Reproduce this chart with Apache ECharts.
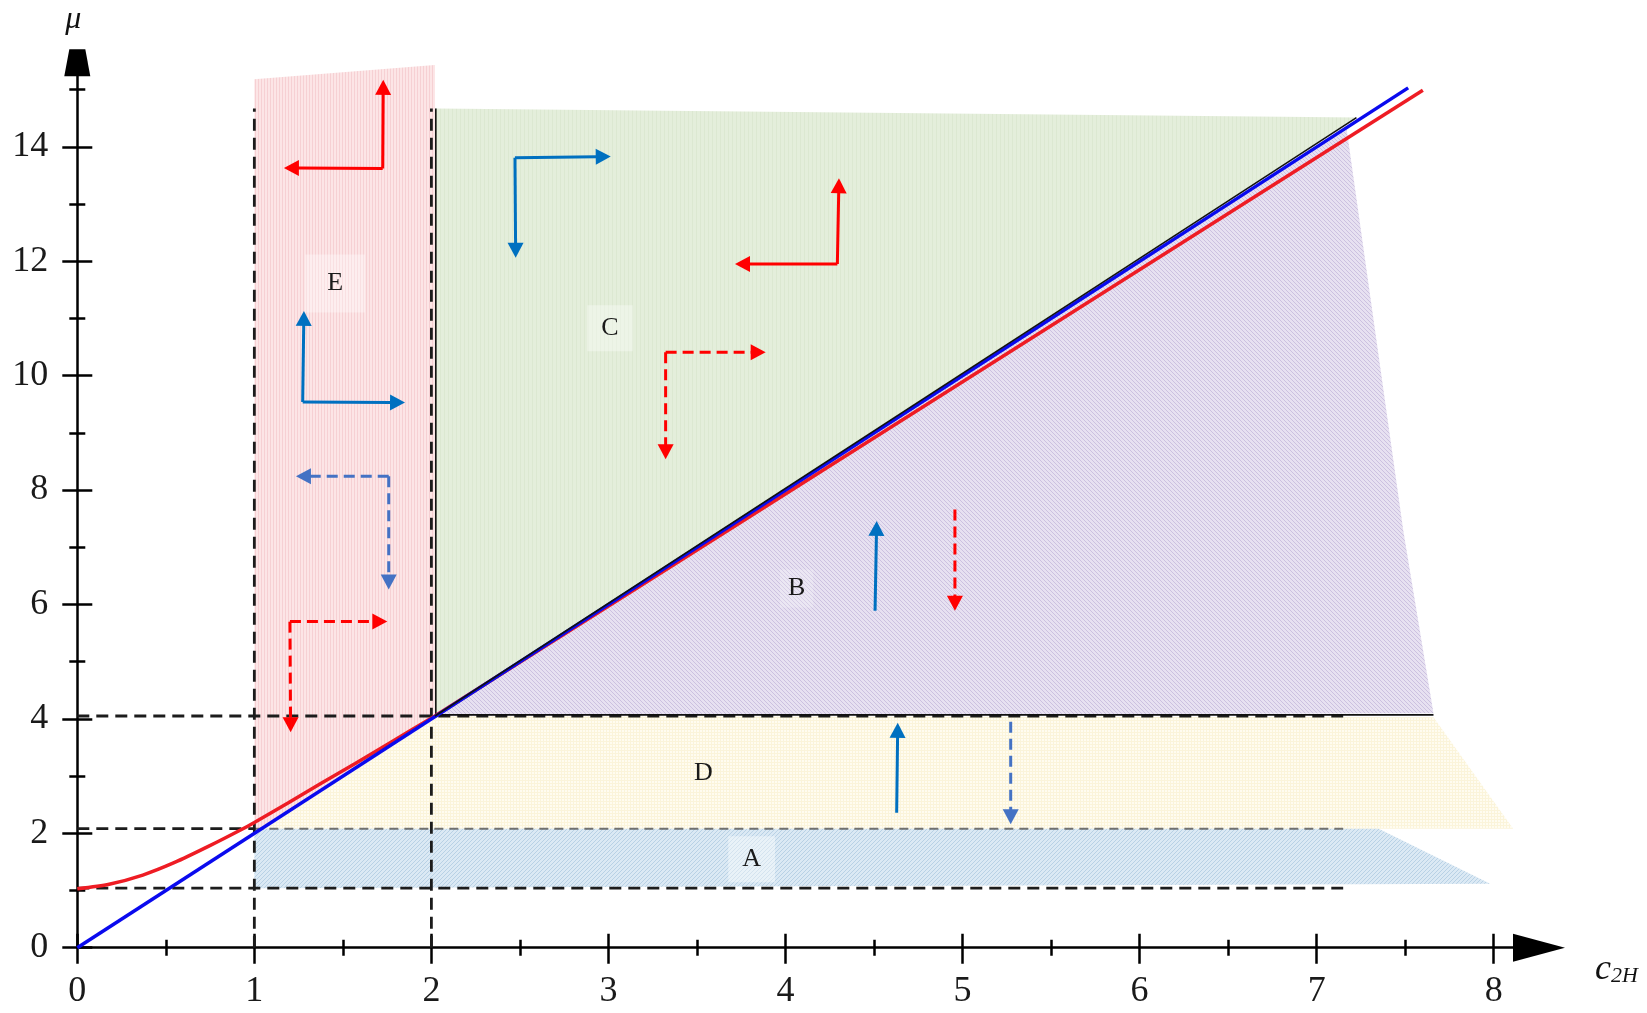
<!DOCTYPE html>
<html>
<head>
<meta charset="utf-8">
<script src="https://cdn.jsdelivr.net/npm/echarts@6/dist/echarts.min.js"></script>
<style>
html,body{margin:0;padding:0;background:#ffffff;}
#chart{width:1647px;height:1013px;}
</style>
</head>
<body>
<div id="chart"></div>
<script>
// ---------- data ----------
const xMajorTicks = [0, 1, 2, 3, 4, 5, 6, 7, 8];
const xMinorTicks = [0.5, 1.5, 2.5, 3.5, 4.5, 5.5, 6.5, 7.5];
const yMajorTicks = [0, 2, 4, 6, 8, 10, 12, 14];
const yMinorTicks = [1, 3, 5, 7, 9, 11, 13, 15];

// red curve: curved part up to the meeting point, then straight part
const redCurve = [[0, 1.03], [0.18, 1.11], [0.37, 1.27], [0.55, 1.49], [0.74, 1.77], [0.93, 2.07], [1.0, 2.19],
  [1.19, 2.53], [1.38, 2.88], [1.57, 3.22], [1.76, 3.57], [2.02, 4.05]];
const redStraight = [[2.02, 4.05], [7.6, 14.99]];
const blueLine = [[0, 0], [7.517, 15.03]];
const blackLine = [[2.02, 4.05], [7.225, 14.51]];

const regionE = [[1.0, 15.18], [2.02, 15.43], [2.02, 4.05], [1.0, 2.0]];
const regionC = [[2.02, 4.05], [2.02, 14.67], [7.225, 14.51]];
const regionB = [[2.02, 4.05], [7.17, 14.3], [7.49, 7.28], [7.66, 4.1]];
const regionD = [[1.04, 2.08], [2.02, 4.05], [7.66, 4.03], [8.11, 2.08]];
const regionA = [[1.0, 1.04], [1.0, 2.08], [7.35, 2.08], [7.98, 1.12]];

const darkDashedLines = [
  [[0, 4.05], [7.15, 4.05]],
  [[0, 2.08], [1.0, 2.08]],
  [[0, 1.04], [7.15, 1.04]],
  [[1.0, 0], [1.0, 14.67]],
  [[2.0, 0], [2.0, 14.67]]
];
const greyDashedLines = [
  [[1.0, 2.08], [7.15, 2.08]]
];
const thinSolidLines = [
  [[2.02, 4.07], [7.66, 4.07]],
  [[2.025, 4.05], [2.025, 14.67]]
];

// arrows: [tailX, tailY, tipX, tipY]
const redSolidArrows = [
  [1.725, 13.62, 1.728, 15.17], [1.725, 13.62, 1.167, 13.63],
  [4.293, 11.95, 4.302, 13.45], [4.293, 11.95, 3.715, 11.95]
];
const redDashedArrows = [
  [1.201, 5.70, 1.751, 5.70], [1.201, 5.70, 1.205, 3.765],
  [3.323, 10.41, 3.888, 10.41], [3.323, 10.41, 3.323, 8.54],
  [4.957, 7.66, 4.957, 5.89]
];
const blueSolidArrows = [
  [1.273, 9.54, 1.28, 11.13], [1.273, 9.54, 1.851, 9.53],
  [2.472, 13.81, 3.013, 13.83], [2.472, 13.81, 2.476, 12.06],
  [4.506, 5.89, 4.515, 7.46],
  [4.628, 2.36, 4.634, 3.93]
];
const blueDashedArrows = [
  [1.759, 8.24, 1.235, 8.24], [1.759, 8.24, 1.759, 6.26],
  [5.272, 3.95, 5.272, 2.16]
];

const regionLabelNames = ['E', 'C', 'B', 'D', 'A'];
const regionLabelPos = [[1.456, 11.61], [3.009, 10.83], [4.063, 6.28], [3.536, 3.05], [3.809, 1.545]];

// ---------- styling helpers ----------
const SERIF = '"Liberation Serif", "DejaVu Serif", serif';
function makePattern(bg, fg, kind, s) {
  const c = document.createElement('canvas');
  c.width = s; c.height = s;
  const g = c.getContext('2d');
  g.fillStyle = bg; g.fillRect(0, 0, s, s);
  g.fillStyle = fg;
  if (kind === 'v') g.fillRect(0, 0, 1, s);
  else if (kind === 'grid') { g.fillRect(0, 0, 1, s); g.fillRect(0, 0, s, 1); }
  else if (kind === 'back') { for (let i = 0; i < s; i++) g.fillRect(i, i, 1, 1); }
  else if (kind === 'fwd') { for (let i = 0; i < s; i++) g.fillRect(s - 1 - i, i, 1, 1); }
  return { image: c, repeat: 'repeat' };
}
const fillE = makePattern('rgb(252,229,230)', 'rgb(246,208,211)', 'v', 3);
const fillC = makePattern('rgb(228,238,219)', 'rgb(220,232,209)', 'v', 4);
const fillB = makePattern('rgb(231,225,241)', 'rgb(204,193,224)', 'back', 4);
const fillD = makePattern('rgb(255,252,240)', 'rgb(251,244,218)', 'grid', 3);
const fillA = makePattern('rgb(219,233,244)', 'rgb(184,209,229)', 'fwd', 4);

function regionSeries(points, fill) {
  return {
    type: 'custom', coordinateSystem: 'cartesian2d', silent: true, z: 1, animation: false,
    data: points,
    renderItem: function (params, api) {
      if (params.dataIndex !== 0) return null;
      return { type: 'polygon', shape: { points: points.map(function (p) { return api.coord(p); }) }, style: { fill: fill } };
    }
  };
}
function segSeries(seg, color, width, type, z) {
  return {
    type: 'line', data: seg, symbol: 'none', showSymbol: false, silent: true, z: z, animation: false,
    lineStyle: { color: color, width: width, type: type }
  };
}
function arrowSeries(list, color, dashed) {
  return {
    type: 'custom', coordinateSystem: 'cartesian2d', silent: true, z: 6, animation: false,
    data: list,
    renderItem: function (params, api) {
      const p0 = api.coord([api.value(0), api.value(1)]);
      const p1 = api.coord([api.value(2), api.value(3)]);
      const dx = p1[0] - p0[0], dy = p1[1] - p0[1];
      const len = Math.sqrt(dx * dx + dy * dy) || 1;
      const ux = dx / len, uy = dy / len;
      const hl = 15, hw = 8;
      const bx = p1[0] - ux * hl, by = p1[1] - uy * hl;
      return {
        type: 'group', children: [
          { type: 'line', shape: { x1: p0[0], y1: p0[1], x2: bx + ux, y2: by + uy },
            style: { stroke: color, lineWidth: 3, lineDash: dashed ? [11, 6] : null } },
          { type: 'polygon', shape: { points: [[p1[0], p1[1]], [bx - uy * hw, by + ux * hw], [bx + uy * hw, by - ux * hw]] },
            style: { fill: color } }
        ]
      };
    }
  };
}
const labelBg = { E: 'rgba(255,255,255,0.35)', C: 'rgba(255,255,255,0.35)', B: 'rgba(255,255,255,0.2)', D: 'rgba(255,255,255,0)', A: 'rgba(255,255,255,0.4)' };
const labelPad = { E: [16, 22], C: [10, 14], B: [6, 8], D: [4, 4], A: [10, 14] };

// ---------- axes ----------
const X_MAX = 8.256, Y_MAX = 15.47;
const tickLine = { color: '#000', width: 2.5 };
function xAxisDef(ticks, len, inside, main) {
  return {
    type: 'value', min: 0, max: X_MAX, position: 'bottom', gridIndex: 0,
    splitLine: { show: false },
    axisLine: main ? { show: true, onZero: false, symbol: ['none', 'triangle'], symbolSize: [28, 52], lineStyle: { color: '#000', width: 2.5 } } : { show: false, onZero: false },
    axisTick: { show: true, customValues: ticks, length: len, inside: inside, lineStyle: tickLine },
    axisLabel: main ? { show: true, customValues: ticks, margin: 26, fontSize: 36, fontFamily: SERIF, color: '#1a1a1a' } : { show: false },
    name: main ? '{c|c}{s|2H}' : '',
    nameLocation: 'end', nameGap: 56,
    nameTextStyle: {
      align: 'left', verticalAlign: 'top', padding: [4, 0, 0, 0],
      rich: {
        c: { fontFamily: SERIF, fontStyle: 'italic', fontSize: 36, color: '#111' },
        s: { fontFamily: SERIF, fontStyle: 'italic', fontSize: 22, color: '#111', verticalAlign: 'bottom' }
      }
    }
  };
}
function yAxisDef(ticks, len, inside, main) {
  return {
    type: 'value', min: 0, max: Y_MAX, position: 'left', gridIndex: 0,
    splitLine: { show: false },
    axisLine: main ? { show: true, onZero: false, symbol: ['none', 'path://M5,0 L21,0 L26,27 L0,27 Z'], symbolSize: [26, 27], lineStyle: { color: '#000', width: 2.5 } } : { show: false, onZero: false },
    axisTick: { show: true, customValues: ticks, length: len, inside: inside, lineStyle: tickLine },
    axisLabel: main ? { show: true, customValues: ticks, margin: 29, fontSize: 36, fontFamily: SERIF, color: '#1a1a1a' } : { show: false },
    name: main ? 'μ' : '',
    nameLocation: 'end', nameGap: 27,
    nameTextStyle: { fontFamily: SERIF, fontStyle: 'italic', fontSize: 32, color: '#111', padding: [0, 8, 0, 0] }
  };
}

const series = [
  regionSeries(regionE, fillE),
  regionSeries(regionC, fillC),
  regionSeries(regionB, fillB),
  regionSeries(regionD, fillD),
  regionSeries(regionA, fillA)
];
greyDashedLines.forEach(function (s) { series.push(segSeries(s, 'rgba(70,70,70,0.75)', 2, [9, 6], 3)); });
darkDashedLines.forEach(function (s) { series.push(segSeries(s, '#1c1c1c', 2.8, [12, 7], 3)); });
thinSolidLines.forEach(function (s) { series.push(segSeries(s, '#111', 1.6, 'solid', 4)); });
series.push({ type: 'line', data: redCurve, symbol: 'none', smooth: 0.25, silent: true, z: 5, animation: false, lineStyle: { color: '#EE1C24', width: 3.5 } });
series.push(segSeries(redStraight, '#EE1C24', 3.5, 'solid', 5));
series.push(segSeries(blueLine, '#0A0AEE', 3.5, 'solid', 5));
series.push(segSeries(blackLine, '#111', 1.6, 'solid', 5));
series.push(arrowSeries(redSolidArrows, '#FF0000', false));
series.push(arrowSeries(redDashedArrows, '#FF0000', true));
series.push(arrowSeries(blueSolidArrows, '#0070C0', false));
series.push(arrowSeries(blueDashedArrows, '#4472C4', true));
series.push({
  type: 'custom', coordinateSystem: 'cartesian2d', silent: true, z: 7, animation: false,
  data: regionLabelPos,
  renderItem: function (params, api) {
    const name = regionLabelNames[params.dataIndex];
    const p = api.coord([api.value(0), api.value(1)]);
    return {
      type: 'text', x: p[0], y: p[1],
      style: { text: name, fontFamily: SERIF, fontSize: 26, fill: '#1a1a1a', align: 'center', verticalAlign: 'middle',
        backgroundColor: labelBg[name], padding: labelPad[name] }
    };
  }
});

const chart = echarts.init(document.getElementById('chart'), null, { renderer: 'canvas' });
chart.setOption({
  animation: false,
  backgroundColor: '#ffffff',
  grid: { left: 77.3, right: 108, top: 62.7, bottom: 65.3, containLabel: false, outerBoundsMode: 'none' },
  xAxis: [xAxisDef(xMajorTicks, 16, false, true), xAxisDef(xMajorTicks, 14, true, false),
          xAxisDef(xMinorTicks, 8, false, false), xAxisDef(xMinorTicks, 8, true, false)],
  yAxis: [yAxisDef(yMajorTicks, 15, false, true), yAxisDef(yMajorTicks, 15, true, false),
          yAxisDef(yMinorTicks, 8, false, false), yAxisDef(yMinorTicks, 8, true, false)],
  series: series
});
</script>
</body>
</html>
